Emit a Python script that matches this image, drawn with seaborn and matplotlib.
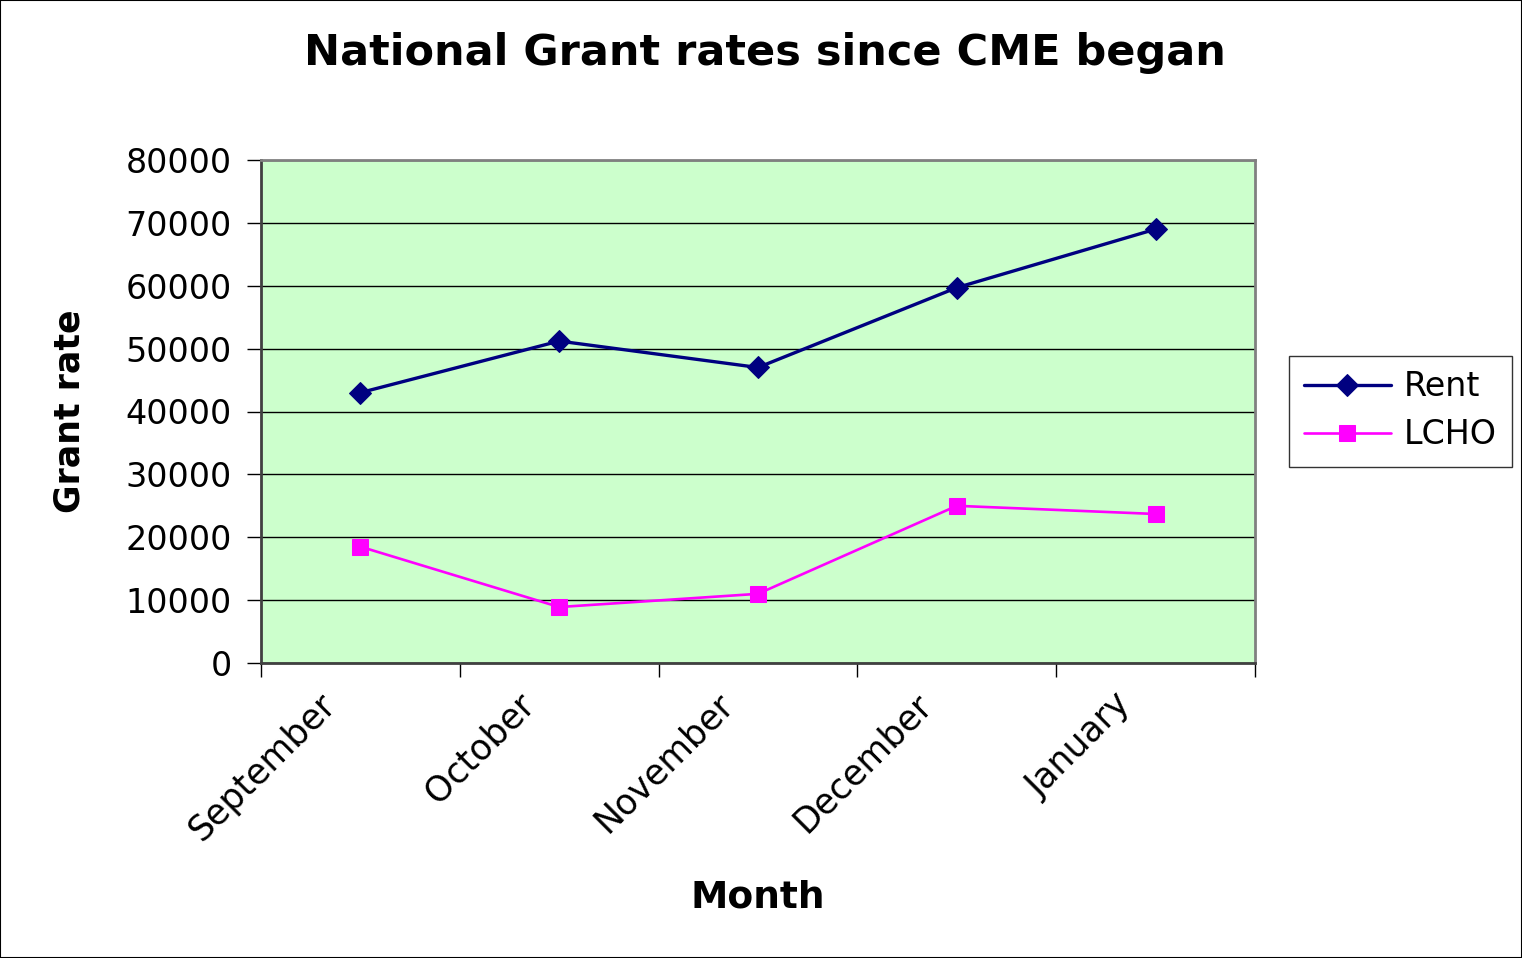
import matplotlib
matplotlib.use("Agg")
import matplotlib.pyplot as plt
import seaborn as sns
import numpy as np
import pandas as pd
from matplotlib.patches import Rectangle

months = ["September", "October", "November", "December", "January"]
rent = [43000, 51200, 47000, 59700, 69000]
lcho = [18500, 8900, 11000, 25000, 23700]
yticks = [0, 10000, 20000, 30000, 40000, 50000, 60000, 70000, 80000]

sns.set_theme(style="white")
plt.rcParams['font.family'] = ['DejaVu Sans']
plt.rcParams['text.color'] = 'black'
plt.rcParams['axes.labelcolor'] = 'black'
plt.rcParams['xtick.color'] = 'black'
plt.rcParams['ytick.color'] = 'black'

df = pd.DataFrame({
    "pos": list(range(len(months))) * 2,
    "value": rent + lcho,
    "series": ["Rent"] * len(months) + ["LCHO"] * len(months),
})

fig = plt.figure(figsize=(15.22, 9.58), dpi=100)
ax = fig.add_axes([261/1522, 1 - 663/958, (1255-261)/1522, (663-160)/958])
ax.set_facecolor("#CCFFCC")

sns.lineplot(data=df[df.series == "Rent"], x="pos", y="value", ax=ax,
             color="#000080", marker="D", markersize=11, linewidth=2.4,
             markeredgecolor="#000080", label="Rent")
sns.lineplot(data=df[df.series == "LCHO"], x="pos", y="value", ax=ax,
             color="#FF00FF", marker="s", markersize=11, linewidth=1.9,
             markeredgecolor="#FF00FF", label="LCHO")

ax.set_xlim(-0.5, len(months) - 0.5)
ax.set_ylim(0, 80000)
ax.set_yticks(yticks)
ax.set_yticklabels([str(v) for v in yticks], fontsize=24)
ax.yaxis.grid(True, color="black", linewidth=1)
ax.set_axisbelow(True)

ax.set_xticks(np.arange(-0.5, len(months), 1.0))
ax.set_xticklabels([])
# label anchors nudged left of category centres (labels only, ticks invisible)
ax.set_xticks(np.arange(len(months)) - 0.15, minor=True)
ax.set_xticklabels(months, minor=True, rotation=45, ha="right", va="center",
                   rotation_mode="anchor", fontsize=25)
ax.tick_params(axis="x", which="major", direction="out", length=10, width=1, color="black", bottom=True)
ax.tick_params(axis="x", which="minor", length=0, pad=26)
ax.tick_params(axis="y", direction="out", length=10, width=1, color="black", left=True, pad=11)

for s in ax.spines.values():
    s.set_color("#808080")
    s.set_linewidth(2)
ax.spines["bottom"].set_color("#404040")
ax.spines["left"].set_color("#404040")

ax.set_xlabel("Month", fontsize=27, fontweight="bold", va="center")
ax.xaxis.set_label_coords(0.5, (663-897)/503)
ax.set_ylabel("Grant rate", fontsize=25, fontweight="bold", va="center")
ax.yaxis.set_label_coords((70-261)/994, 0.5)
fig.text(765/1522, 1 - 53/958, "National Grant rates since CME began",
         ha="center", va="center", fontsize=31, fontweight="bold")

leg = ax.legend(loc="center left", bbox_to_anchor=(1289/1522, 1 - 411/958),
                bbox_transform=fig.transFigure, fontsize=24, frameon=True,
                fancybox=False, edgecolor="black", handlelength=2.6,
                borderpad=0.45, labelspacing=0.45, handletextpad=0.4,
                borderaxespad=0)
leg.get_frame().set_linewidth(1)

fig.patches.append(Rectangle((0, 0), 1, 1, transform=fig.transFigure,
                             fill=False, edgecolor="black", linewidth=1.5))

fig.savefig("out.png", dpi=100)
